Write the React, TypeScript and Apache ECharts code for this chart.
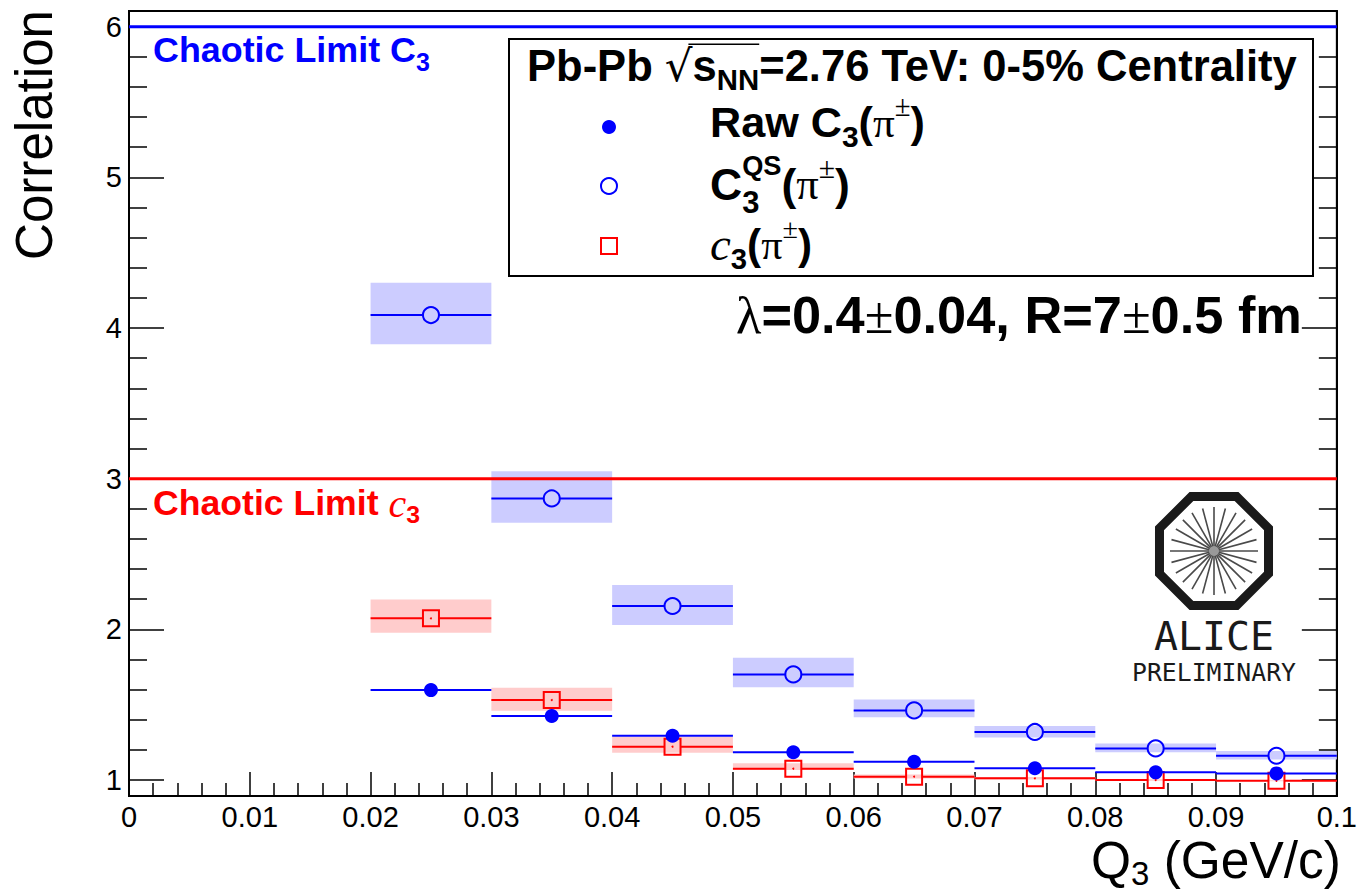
import React, { useEffect, useRef } from "react";
import * as echarts from "echarts";

// ---------------- data ----------------
const qCenters = [0.025, 0.035, 0.045, 0.055, 0.065, 0.075, 0.085, 0.095];
const binHalfWidth = 0.005;
const rawC3 = [1.597, 1.425, 1.294, 1.184, 1.121, 1.078, 1.051, 1.044];
const c3QS = [4.086, 2.869, 2.155, 1.701, 1.462, 1.319, 1.21, 1.161];
const c3QSSysLow = [3.893, 2.707, 2.029, 1.615, 1.416, 1.283, 1.184, 1.137];
const c3QSSysHigh = [4.3, 3.05, 2.294, 1.812, 1.535, 1.358, 1.243, 1.192];
const cumulantC3 = [2.073, 1.531, 1.221, 1.075, 1.022, 1.011, 1.0, 0.995];
const cumulantSysLow = [1.977, 1.46, 1.181, 1.066, 1.01, 1.004, 0.996, 0.992];
const cumulantSysHigh = [2.198, 1.612, 1.287, 1.111, 1.036, 1.02, 1.005, 0.999];
const chaoticLimitC3 = 6;
const chaoticLimitCumulant = 3;
const xRange = [0, 0.1];
const yRange = [0.894, 6.104];

const BLUE = "#0000ff";
const RED = "#ff0000";
const SANS = '"Liberation Sans", Arial, Helvetica, sans-serif';
const SERIF = '"Liberation Serif", "Times New Roman", serif';
const MONO = '"DejaVu Sans Mono", monospace';

type Seg = {
  t: string;
  s: number;
  b?: boolean;
  i?: boolean;
  f?: string;
  dy?: number;
  adv?: boolean;
};

let ctx: CanvasRenderingContext2D | null = null;
function fontOf(seg: Seg, k: number) {
  return `${seg.i ? "italic " : ""}${seg.b ? "bold " : ""}${seg.s * k}px ${seg.f || SANS}`;
}
function measure(seg: Seg, k: number) {
  if (!ctx) ctx = document.createElement("canvas").getContext("2d");
  ctx!.font = fontOf(seg, k);
  return ctx!.measureText(seg.t).width;
}
function buildText(
  x: number,
  y: number,
  segs: Seg[],
  color: string,
  opts: { align?: "left" | "right"; width?: number } = {}
) {
  const natural = segs.reduce((a, s) => a + (s.adv === false ? 0 : measure(s, 1)), 0);
  const k = opts.width ? opts.width / natural : 1;
  const total = natural * k;
  let cx = opts.align === "right" ? x - total : x;
  const els: any[] = [];
  const pos: { x: number; w: number; size: number }[] = [];
  for (const s of segs) {
    const w = measure(s, k);
    pos.push({ x: cx, w, size: s.s * k });
    els.push({
      type: "text",
      x: cx,
      y: y + (s.dy || 0) * k,
      z: 100,
      style: {
        text: s.t,
        fill: color,
        fontSize: s.s * k,
        fontWeight: s.b ? "bold" : "normal",
        fontStyle: s.i ? "italic" : "normal",
        fontFamily: s.f || SANS,
        align: "left",
        verticalAlign: "middle",
        textAlign: "left",
        textVerticalAlign: "middle",
      },
    });
    if (s.adv !== false) cx += w;
  }
  return { els, pos, k };
}

function buildGraphics() {
  const g: any[] = [];
  // legend box
  g.push({
    type: "rect",
    z: 90,
    shape: { x: 509, y: 39, width: 804, height: 237 },
    style: { fill: "#fff", stroke: "#000", lineWidth: 2 },
  });
  const header = buildText(
    527,
    66,
    [
      { t: "Pb-Pb ", s: 40, b: true },
      { t: "√", s: 40, f: '"DejaVu Sans", sans-serif' },
      { t: "s", s: 40, b: true },
      { t: "NN", s: 27, b: true, dy: 12 },
      { t: "=2.76 TeV: 0-5% Centrality", s: 40, b: true },
    ],
    "#000",
    { width: 770 }
  );
  g.push(...header.els);
  const sq = header.pos[1];
  const nn = header.pos[3];
  g.push({
    type: "line",
    z: 100,
    shape: { x1: sq.x + sq.w * 0.85, y1: 66 - sq.size * 0.5, x2: nn.x + nn.w, y2: 66 - sq.size * 0.5 },
    style: { stroke: "#000", lineWidth: 1.5 },
  });
  // legend entries
  g.push({ type: "circle", z: 100, shape: { cx: 609, cy: 127, r: 7 }, style: { fill: BLUE } });
  g.push({
    type: "circle",
    z: 100,
    shape: { cx: 609, cy: 186, r: 8 },
    style: { fill: "none", stroke: BLUE, lineWidth: 2 },
  });
  g.push({
    type: "rect",
    z: 100,
    shape: { x: 601, y: 238, width: 16, height: 16 },
    style: { fill: "none", stroke: RED, lineWidth: 2 },
  });
  g.push(
    ...buildText(
      710,
      122,
      [
        { t: "Raw C", s: 36, b: true },
        { t: "3", s: 25, b: true, dy: 12 },
        { t: "(", s: 36, b: true },
        { t: "π", s: 36, f: SERIF },
        { t: "±", s: 24, f: SERIF, dy: -13 },
        { t: ")", s: 36, b: true },
      ],
      "#000",
      { width: 215 }
    ).els
  );
  g.push(
    ...buildText(
      710,
      184,
      [
        { t: "C", s: 36, b: true },
        { t: "3", s: 25, b: true, dy: 15, adv: false },
        { t: "QS", s: 22, b: true, dy: -15 },
        { t: "(", s: 36, b: true },
        { t: "π", s: 36, f: SERIF },
        { t: "±", s: 24, f: SERIF, dy: -13 },
        { t: ")", s: 36, b: true },
      ],
      "#000",
      { width: 140 }
    ).els
  );
  g.push(
    ...buildText(
      710,
      244,
      [
        { t: "c", s: 40, i: true, f: SERIF },
        { t: "3", s: 25, b: true, dy: 12 },
        { t: "(", s: 36, b: true },
        { t: "π", s: 36, f: SERIF },
        { t: "±", s: 24, f: SERIF, dy: -13 },
        { t: ")", s: 36, b: true },
      ],
      "#000",
      { width: 102 }
    ).els
  );
  // lambda / R text
  g.push(
    ...buildText(
      736,
      315,
      [
        { t: "λ", s: 52, f: SERIF },
        { t: "=0.4", s: 52, b: true },
        { t: "±", s: 52, f: SERIF },
        { t: "0.04, R=7", s: 52, b: true },
        { t: "±", s: 52, f: SERIF },
        { t: "0.5 fm", s: 52, b: true },
      ],
      "#000",
      { width: 566 }
    ).els
  );
  // chaotic limit labels
  g.push(
    ...buildText(
      153,
      50,
      [
        { t: "Chaotic Limit C", s: 33, b: true },
        { t: "3", s: 23, b: true, dy: 11 },
      ],
      BLUE,
      { width: 277 }
    ).els
  );
  g.push(
    ...buildText(
      153,
      503,
      [
        { t: "Chaotic Limit ", s: 33, b: true },
        { t: "c", s: 37, i: true, f: SERIF },
        { t: "3", s: 23, b: true, dy: 11 },
      ],
      RED,
      { width: 267 }
    ).els
  );
  // axis titles
  g.push(
    ...buildText(
      1341,
      860,
      [
        { t: "Q", s: 50 },
        { t: "3", s: 32, dy: 13 },
        { t: " (GeV/c)", s: 50 },
      ],
      "#000",
      { align: "right", width: 250 }
    ).els
  );
  const corrSeg: Seg = { t: "Correlation", s: 50 };
  const corrK = 250 / measure(corrSeg, 1);
  g.push({
    type: "text",
    x: 34,
    y: 10,
    rotation: Math.PI / 2,
    z: 100,
    style: {
      text: "Correlation",
      fill: "#000",
      fontSize: 50 * corrK,
      fontFamily: SANS,
      align: "right",
      verticalAlign: "middle",
      textAlign: "right",
      textVerticalAlign: "middle",
    },
  });
  // ALICE logo
  const lcx = 1214,
    lcy = 551,
    R = 59;
  const oct: number[][] = [];
  for (let k = 0; k < 8; k++) {
    const a = ((22.5 + 45 * k) * Math.PI) / 180;
    oct.push([lcx + R * Math.cos(a), lcy + R * Math.sin(a)]);
  }
  g.push({
    type: "polygon",
    z: 100,
    shape: { points: oct },
    style: { fill: "#fff", stroke: "#1a1a1a", lineWidth: 9, lineJoin: "miter" },
  });
  for (let k = 0; k < 24; k++) {
    const a = (k * 15 * Math.PI) / 180;
    g.push({
      type: "line",
      z: 101,
      shape: {
        x1: lcx + 4 * Math.cos(a),
        y1: lcy + 4 * Math.sin(a),
        x2: lcx + 44 * Math.cos(a),
        y2: lcy + 44 * Math.sin(a),
      },
      style: { stroke: "#4a4a4a", lineWidth: 1.6 },
    });
  }
  g.push({ type: "circle", z: 102, shape: { cx: lcx, cy: lcy, r: 5 }, style: { fill: "#999" } });
  const aliceSeg: Seg = { t: "ALICE", s: 40, f: MONO };
  const prelSeg: Seg = { t: "PRELIMINARY", s: 24, f: MONO };
  g.push({
    type: "text",
    x: lcx,
    y: 636,
    z: 100,
    style: {
      text: "ALICE",
      fill: "#1a1a1a",
      fontSize: 40 * (120 / measure(aliceSeg, 1)),
      fontFamily: MONO,
      align: "center",
      verticalAlign: "middle",
      textAlign: "center",
      textVerticalAlign: "middle",
    },
  });
  g.push({
    type: "text",
    x: lcx,
    y: 672,
    z: 100,
    style: {
      text: "PRELIMINARY",
      fill: "#1a1a1a",
      fontSize: 24 * (164 / measure(prelSeg, 1)),
      fontFamily: MONO,
      align: "center",
      verticalAlign: "middle",
      textAlign: "center",
      textVerticalAlign: "middle",
    },
  });
  return g;
}

function boxSeries(name: string, lo: number[], hi: number[], fill: string) {
  return {
    type: "custom",
    name,
    z: 2,
    data: qCenters.map((q, i) => [q, lo[i], hi[i]]),
    encode: { x: 0, y: [1, 2] },
    renderItem: (_p: any, api: any) => {
      const x = api.value(0);
      const a = api.coord([x - binHalfWidth, api.value(2)]);
      const b = api.coord([x + binHalfWidth, api.value(1)]);
      return {
        type: "rect",
        shape: { x: a[0], y: a[1], width: b[0] - a[0], height: b[1] - a[1] },
        style: { fill },
      };
    },
  };
}

function pointSeries(name: string, vals: number[], kind: "filled" | "open" | "square", color: string, z: number) {
  return {
    type: "custom",
    name,
    z,
    data: qCenters.map((q, i) => [q, vals[i]]),
    encode: { x: 0, y: 1 },
    renderItem: (_p: any, api: any) => {
      const x = api.value(0);
      const y = api.value(1);
      const c = api.coord([x, y]);
      const l = api.coord([x - binHalfWidth, y]);
      const r = api.coord([x + binHalfWidth, y]);
      const gap = kind === "filled" ? 0 : 8;
      const children: any[] = [
        { type: "line", shape: { x1: l[0], y1: c[1], x2: c[0] - gap, y2: c[1] }, style: { stroke: color, lineWidth: 2 } },
        { type: "line", shape: { x1: c[0] + gap, y1: c[1], x2: r[0], y2: c[1] }, style: { stroke: color, lineWidth: 2 } },
      ];
      if (kind === "filled") {
        children.push({ type: "circle", shape: { cx: c[0], cy: c[1], r: 7 }, style: { fill: color } });
      } else if (kind === "open") {
        children.push({
          type: "circle",
          shape: { cx: c[0], cy: c[1], r: 8 },
          style: { fill: "none", stroke: color, lineWidth: 2 },
        });
      } else {
        children.push({
          type: "rect",
          shape: { x: c[0] - 8, y: c[1] - 8, width: 16, height: 16 },
          style: { fill: "none", stroke: color, lineWidth: 2 },
        });
        children.push({ type: "circle", shape: { cx: c[0], cy: c[1], r: 1 }, style: { fill: color } });
      }
      return { type: "group", children };
    },
  };
}

function limitLine(name: string, v: number, color: string) {
  return {
    type: "line",
    name,
    z: 3,
    data: [
      [xRange[0], v],
      [xRange[1], v],
    ],
    symbol: "none",
    lineStyle: { color, width: 3 },
    silent: true,
  };
}

const yAxisBase = {
  type: "value",
  min: yRange[0],
  max: yRange[1],
  minInterval: 1,
  maxInterval: 1,
  axisLine: { show: true, lineStyle: { color: "#000", width: 2 } },
  axisTick: { show: true, inside: true, length: 35, lineStyle: { color: "#000", width: 1.5 } },
  minorTick: { show: true, splitNumber: 5, length: 18, lineStyle: { color: "#000", width: 1.5 } },
  splitLine: { show: false },
  minorSplitLine: { show: false },
};

export default function App() {
  const ref = useRef<HTMLDivElement>(null);
  useEffect(() => {
    if (!ref.current) return;
    const chart = echarts.init(ref.current, undefined, { renderer: "svg" });
    chart.setOption({
      animation: false,
      backgroundColor: "#fff",
      grid: {
        left: 129,
        right: 17,
        top: 11,
        bottom: 97,
        show: true,
        borderColor: "#000",
        borderWidth: 2,
        backgroundColor: "transparent",
      },
      xAxis: {
        type: "value",
        min: xRange[0],
        max: xRange[1],
        interval: 0.01,
        axisLine: { show: true, lineStyle: { color: "#000", width: 2 } },
        axisTick: { show: true, inside: true, length: 24, lineStyle: { color: "#000", width: 1.5 } },
        minorTick: { show: true, splitNumber: 5, length: 13, lineStyle: { color: "#000", width: 1.5 } },
        splitLine: { show: false },
        axisLabel: {
          color: "#000",
          fontSize: 29,
          fontFamily: SANS,
          margin: 6,
          showMaxLabel: true,
          formatter: (v: number) => String(Number(v.toFixed(3))),
        },
      },
      yAxis: [
        {
          ...yAxisBase,
          position: "left",
          axisLabel: {
            color: "#000",
            fontSize: 29,
            fontFamily: SANS,
            margin: 7,
            showMinLabel: false,
            showMaxLabel: false,
            formatter: (v: number) => String(Math.round(v)),
          },
        },
        {
          ...yAxisBase,
          position: "right",
          axisLabel: { show: false },
        },
      ],
      series: [
        boxSeries("C3QS systematics", c3QSSysLow, c3QSSysHigh, "#ccccff"),
        boxSeries("c3 systematics", cumulantSysLow, cumulantSysHigh, "#ffcccc"),
        limitLine("Chaotic Limit C3", chaoticLimitC3, BLUE),
        limitLine("Chaotic Limit c3", chaoticLimitCumulant, RED),
        pointSeries("C3QS", c3QS, "open", BLUE, 4),
        pointSeries("c3", cumulantC3, "square", RED, 5),
        pointSeries("Raw C3", rawC3, "filled", BLUE, 6),
      ],
      graphic: buildGraphics(),
    });
    return () => chart.dispose();
  }, []);
  return (
    <div
      ref={ref}
      style={{ position: "fixed", left: 0, top: 0, width: 1360, height: 893, background: "#fff" }}
    />
  );
}
